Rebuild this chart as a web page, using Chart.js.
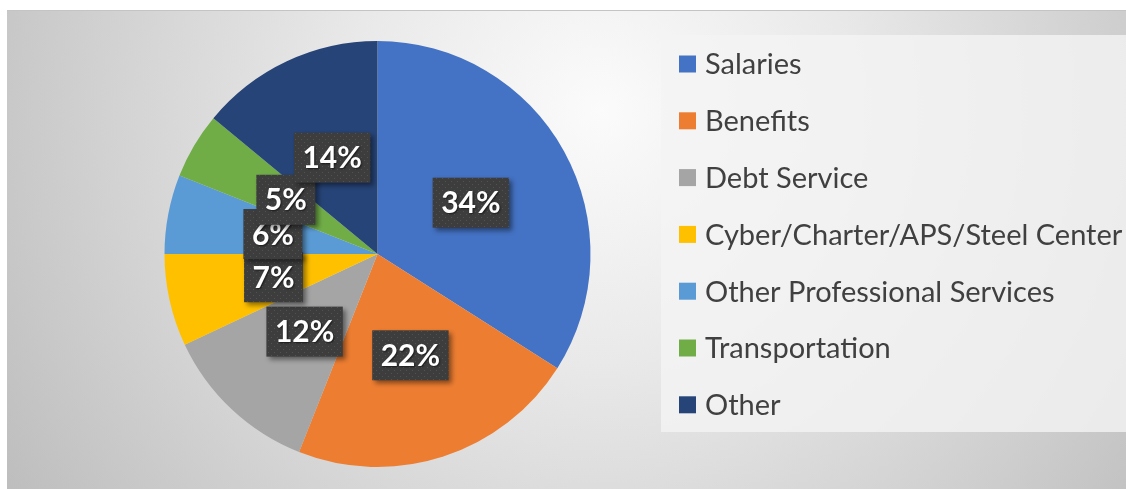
<!DOCTYPE html>
<html>
<head>
<meta charset="utf-8">
<script src="https://cdn.jsdelivr.net/npm/chart.js@4.4.1/dist/chart.umd.min.js"></script>
<style>
  html, body { margin: 0; padding: 0; background: #fff; }
  #wrap { width: 1126px; height: 489px; position: relative; }
</style>
</head>
<body>
<div id="wrap"><canvas id="grafico"></canvas></div>
<script>
// dados
const categorias = ['Salaries', 'Benefits', 'Debt Service', 'Cyber/Charter/APS/Steel Center', 'Other Professional Services', 'Transportation', 'Other'];
const percentuais = [34, 22, 12, 7, 6, 5, 14];
const cores = ['#4472C4', '#ED7D31', '#A5A5A5', '#FFC000', '#5B9BD5', '#70AD47', '#264478'];

const fonteLegenda = '29px Lato, "Open Sans", sans-serif';
const fonteRotulo = 'bold 30px Lato, "Open Sans", sans-serif';

// fundo cinza com degradê radial
const fundo = {
    id: 'fundo',
    beforeDraw(chart) {
        const ctx = chart.ctx;
        ctx.save();
        ctx.fillStyle = '#fff';
        ctx.fillRect(0, 0, chart.width, chart.height);
        const g = ctx.createRadialGradient(600, 110, 0, 600, 110, 720);
        g.addColorStop(0, '#fbfbfb');
        g.addColorStop(0.35, '#e9e9e9');
        g.addColorStop(1, '#bcbcbc');
        ctx.fillStyle = g;
        ctx.fillRect(7, 10, chart.width - 7, chart.height - 10);
        ctx.fillStyle = '#c4c4c4';
        ctx.fillRect(7, 10, chart.width - 7, 1);
        ctx.restore();
    }
};

// legenda desenhada à mão na caixa clara da direita
const legenda = {
    id: 'legenda',
    afterDraw(chart) {
        const ctx = chart.ctx;
        const cor = chart.data.datasets[0].backgroundColor;
        ctx.save();
        ctx.fillStyle = 'rgba(244,244,244,0.8)';
        ctx.fillRect(661, 35, chart.width - 661, 397);
        ctx.font = fonteLegenda;
        ctx.textBaseline = 'middle';
        chart.data.labels.forEach((lab, i) => {
            const y = 64 + i * 56.8;
            ctx.fillStyle = cor[i];
            ctx.fillRect(679, y - 8.5, 17, 17);
            ctx.fillStyle = '#404040';
            ctx.fillText(lab, 705, y + 1);
        });
        ctx.restore();
    }
};

// rótulos de porcentagem em caixas escuras
function criarPadrao(ctx) {
    const c = document.createElement('canvas');
    c.width = 6; c.height = 6;
    const p = c.getContext('2d');
    p.fillStyle = '#3d3d3d';
    p.fillRect(0, 0, 6, 6);
    p.fillStyle = '#525252';
    p.fillRect(1, 1, 1, 1);
    p.fillRect(4, 4, 1, 1);
    return ctx.createPattern(c, 'repeat');
}

const rotulos = {
    id: 'rotulos',
    afterDatasetsDraw(chart) {
        const ctx = chart.ctx;
        const meta = chart.getDatasetMeta(0);
        const valores = chart.data.datasets[0].data;
        const padrao = criarPadrao(ctx);
        meta.data.forEach((arco, i) => {
            const pos = arco.tooltipPosition();
            const txt = valores[i] + '%';
            ctx.save();
            ctx.font = fonteRotulo;
            const w = ctx.measureText(txt).width + 17;
            const h = 50;
            ctx.shadowColor = 'rgba(0,0,0,0.45)';
            ctx.shadowBlur = 5;
            ctx.shadowOffsetX = 3;
            ctx.shadowOffsetY = 3;
            ctx.fillStyle = padrao;
            ctx.fillRect(pos.x - w / 2, pos.y - h / 2, w, h);
            ctx.shadowColor = 'rgba(0,0,0,0.6)';
            ctx.shadowBlur = 2;
            ctx.shadowOffsetX = 1;
            ctx.shadowOffsetY = 1;
            ctx.fillStyle = '#ffffff';
            ctx.textAlign = 'center';
            ctx.textBaseline = 'middle';
            ctx.fillText(txt, pos.x, pos.y + 1);
            ctx.restore();
        });
    }
};

new Chart('grafico', {
    type: 'pie',
    data: {
        labels: categorias,
        datasets: [{
            data: percentuais,
            backgroundColor: cores,
            borderWidth: 0,
            offset: 0,
            hoverOffset: 0
        }]
    },
    options: {
        responsive: true,
        maintainAspectRatio: false,
        devicePixelRatio: 1,
        animation: false,
        layout: { padding: { left: 164, right: 535, top: 41, bottom: 22 } },
        plugins: {
            legend: { display: false },
            tooltip: { enabled: false }
        }
    },
    plugins: [fundo, legenda, rotulos]
});
</script>
</body>
</html>
